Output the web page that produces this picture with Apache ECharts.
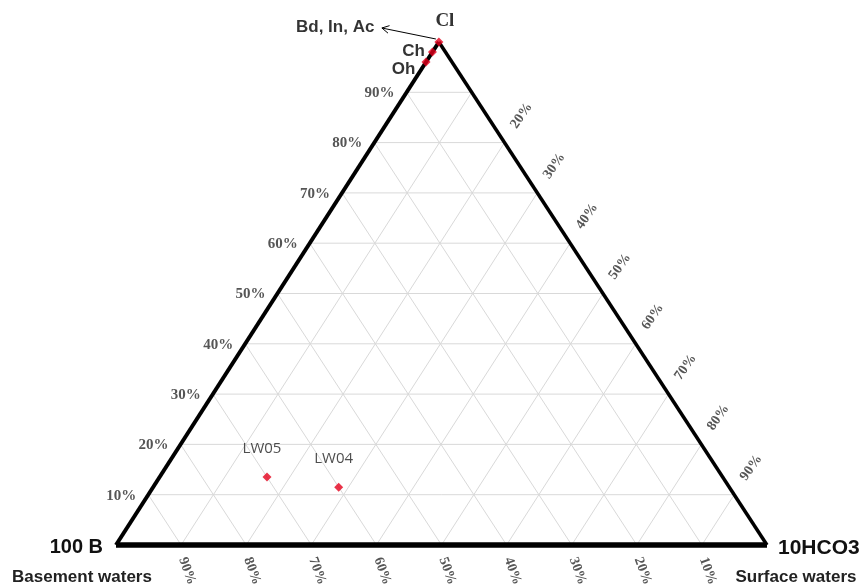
<!DOCTYPE html>
<html><head><meta charset="utf-8">
<script src="https://cdn.jsdelivr.net/npm/echarts/dist/echarts.min.js"></script>
<style>html,body{margin:0;padding:0;background:#fff}#c{width:863px;height:587px}</style>
</head><body><div id="c"></div>
<script>
// Ternary data: [B %, HCO3 %, Cl %]
const sampleNames = ['LW05', 'LW04'];
const sampleB     = [70, 60];
const sampleHCO3  = [16.5, 28.5];
const sampleCl    = [13.5, 11.5];

const endNames = ['Bd, In, Ac', 'Ch', 'Oh'];
const endB     = [0, 2, 4];
const endHCO3  = [0, 0, 0];
const endCl    = [100, 98, 96];

const gridTicks = [10, 20, 30, 40, 50, 60, 70, 80, 90];
const leftTickValues   = [10, 20, 30, 40, 50, 60, 70, 80, 90];      // Cl along left edge
const leftTickLabels   = ['10%','20%','30%','40%','50%','60%','70%','80%','90%'];
const bottomTickValues = [90, 80, 70, 60, 50, 40, 30, 20, 10];      // B along bottom edge
const bottomTickLabels = ['90%','80%','70%','60%','50%','40%','30%','20%','10%'];
const rightTickValues  = [20, 30, 40, 50, 60, 70, 80, 90];          // HCO3 along right edge
const rightTickLabels  = ['20%','30%','40%','50%','60%','70%','80%','90%'];

const APEX = 0.496; // horizontal position of the Cl apex within the base
function tern(b, h, c) {
  const s = b + h + c;
  return [(h + APEX * c) / s, c / s];
}
// label offsets are applied in the rotated frame: convert a screen offset
function localOffset(gx, gy, rotDeg) {
  const t = rotDeg * Math.PI / 180;
  return [gx * Math.cos(t) - gy * Math.sin(t), gx * Math.sin(t) + gy * Math.cos(t)];
}

const series = [];
const gridColor = '#d9d9d9';
function seg(p, q, color, width) {
  series.push({
    type: 'line', data: [p, q], symbol: 'none', silent: true, clip: false,
    lineStyle: { color: color, width: width }, z: 1
  });
}
gridTicks.forEach(k => {
  seg(tern(100 - k, 0, k), tern(0, 100 - k, k), gridColor, 1);     // constant Cl
  seg(tern(100 - k, k, 0), tern(0, k, 100 - k), gridColor, 1);     // constant HCO3
  seg(tern(k, 100 - k, 0), tern(k, 0, 100 - k), gridColor, 1);     // constant B
});
// triangle border
seg(tern(100, 0, 0), tern(0, 100, 0), '#000', 5.5);
seg(tern(100, 0, 0), tern(0, 0, 100), '#000', 4);
seg(tern(0, 100, 0), tern(0, 0, 100), '#000', 3.5);

const pctFont = { fontFamily: 'Liberation Serif', fontWeight: 'bold', fontSize: 14, color: '#2a2a2a' };

// tick labels
series.push({
  type: 'scatter', symbolSize: 0, silent: true, z: 3,
  data: leftTickValues.map((v, i) => ({ value: tern(100 - v, 0, v), name: leftTickLabels[i] })),
  label: Object.assign({ show: true, position: 'left', distance: 12, offset: [0, 1], formatter: '{b}' }, pctFont, { fontSize: 15 })
});
series.push({
  type: 'scatter', symbolSize: 0, silent: true, z: 3,
  data: bottomTickValues.map((v, i) => ({ value: tern(v, 100 - v, 0), name: bottomTickLabels[i] })),
  label: Object.assign({ show: true, position: 'inside', offset: localOffset(6, 26, -70), rotate: -70,
    align: 'center', verticalAlign: 'middle', formatter: '{b}' }, pctFont)
});
series.push({
  type: 'scatter', symbolSize: 0, silent: true, z: 3,
  data: rightTickValues.map((v, i) => ({ value: tern(0, v, 100 - v), name: rightTickLabels[i] })),
  label: Object.assign({ show: true, position: 'inside', offset: localOffset(17, -27, 55), rotate: 55,
    align: 'center', verticalAlign: 'middle', formatter: '{b}' }, pctFont)
});

const red = '#e3001b';
// samples
series.push({
  type: 'scatter', symbol: 'diamond', symbolSize: 9, z: 5,
  itemStyle: { color: red },
  data: sampleNames.map((n, i) => ({ value: tern(sampleB[i], sampleHCO3[i], sampleCl[i]), name: n })),
  label: { show: true, position: 'top', distance: 16, offset: [-5, 0], formatter: '{b}',
    fontFamily: 'Open Sans', fontSize: 15, color: '#222' }
});
// end members
const endLabelCfg = [
  { position: 'left', distance: 60, offset: [0, -15] },
  { position: 'left', distance: 3, offset: [0, -1] },
  { position: 'left', distance: 6, offset: [0, 7] }
];
series.push({
  type: 'scatter', symbol: 'diamond', symbolSize: 9, z: 5,
  itemStyle: { color: red },
  data: endNames.map((n, i) => ({
    value: tern(endB[i], endHCO3[i], endCl[i]), name: n,
    label: Object.assign({ show: true, formatter: '{b}', fontFamily: 'Liberation Sans',
      fontWeight: 'bold', fontSize: 17, color: '#000' }, endLabelCfg[i])
  }))
});

const chart = echarts.init(document.getElementById('c'));
chart.setOption({
  animation: false,
  backgroundColor: '#fff',
  grid: { left: 116, right: 96, top: 42, bottom: 42 },
  xAxis: { type: 'value', min: 0, max: 1, show: false },
  yAxis: { type: 'value', min: 0, max: 1, show: false },
  series: series
});

// annotations
const apexPx = chart.convertToPixel({ gridIndex: 0 }, tern(endB[0], endHCO3[0], endCl[0]));
const ax0 = apexPx[0] - 3, ay0 = apexPx[1] - 3;
const ax1 = apexPx[0] - 57, ay1 = apexPx[1] - 14;
const ang = Math.atan2(ay0 - ay1, ax0 - ax1);
const hl = 8;
chart.setOption({
  graphic: [
    { type: 'line', shape: { x1: ax0, y1: ay0, x2: ax1, y2: ay1 }, style: { stroke: '#000', lineWidth: 1 } },
    { type: 'polyline', shape: { points: [
        [ax1 + hl * Math.cos(ang - 0.5), ay1 + hl * Math.sin(ang - 0.5)], [ax1, ay1],
        [ax1 + hl * Math.cos(ang + 0.5), ay1 + hl * Math.sin(ang + 0.5)]] },
      style: { stroke: '#000', lineWidth: 1, fill: null } },
    { type: 'text', x: apexPx[0] + 6, y: 21, style: { text: 'Cl', font: 'bold 19px "Liberation Serif"', fill: '#333', textAlign: 'center', textVerticalAlign: 'middle' } },
    { type: 'text', x: 103, y: 547, style: { text: '100 B', font: 'bold 20px "Liberation Sans"', fill: '#111', textAlign: 'right', textVerticalAlign: 'middle' } },
    { type: 'text', x: 82, y: 577, style: { text: 'Basement waters', font: 'bold 17px "Liberation Sans"', fill: '#222', textAlign: 'center', textVerticalAlign: 'middle' } },
    { type: 'text', x: 778, y: 548, style: { text: '10HCO3', font: 'bold 21px "Liberation Sans"', fill: '#111', textAlign: 'left', textVerticalAlign: 'middle' } },
    { type: 'text', x: 796, y: 577, style: { text: 'Surface waters', font: 'bold 17px "Liberation Sans"', fill: '#222', textAlign: 'center', textVerticalAlign: 'middle' } }
  ]
});
</script></body></html>
